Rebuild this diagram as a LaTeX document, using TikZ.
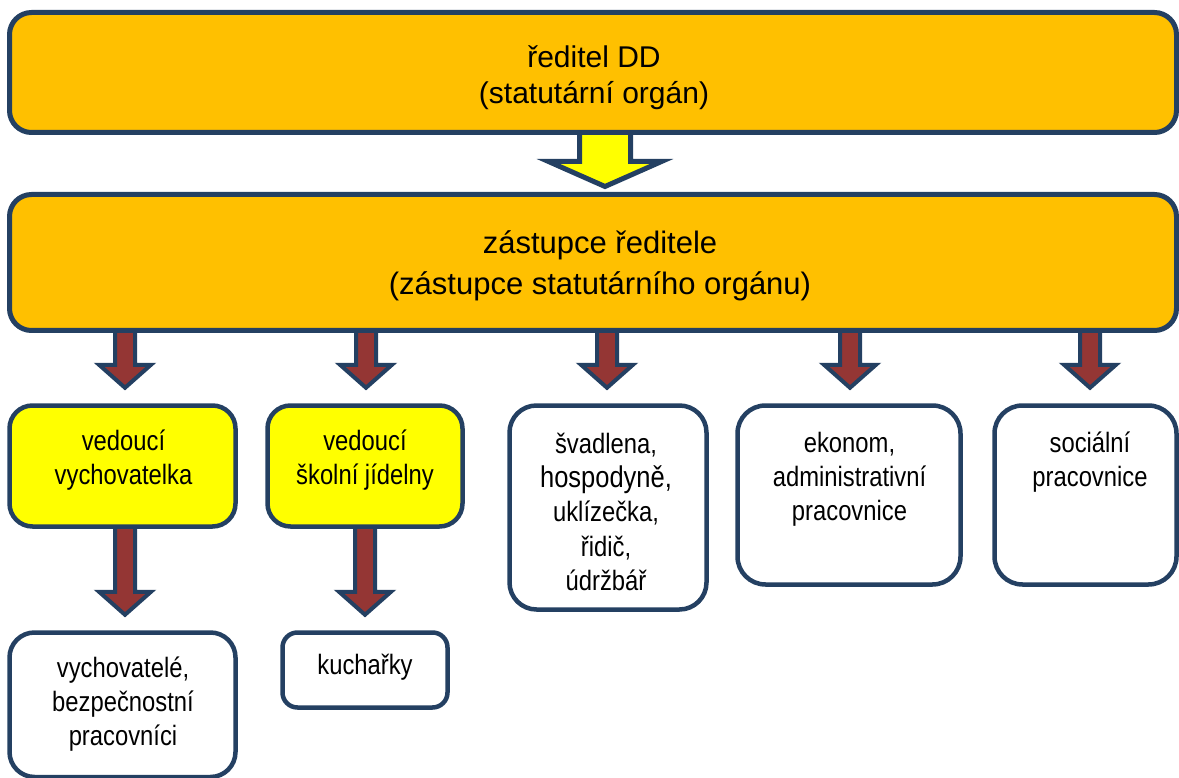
\documentclass[tikz,border=0pt]{standalone}
\usepackage{fontspec}
\setmainfont{Liberation Sans}
\newfontfamily\narrowsans[FakeStretch=0.85]{Liberation Sans}
\usetikzlibrary{calc}
\pgfdeclarelayer{bg}
\pgfsetlayers{bg,main}
\definecolor{navy}{RGB}{36,64,98}
\definecolor{orangefill}{RGB}{255,192,0}
\definecolor{yellowfill}{RGB}{255,255,0}
\definecolor{arrowred}{RGB}{148,54,52}
\newcommand\tstrut{\rule{0pt}{30pt}}
\newcommand\blockarrow[6]{%
  \draw[#1] let \p1=(#2), \p2=(#3) in
    (\x2-#4,\y1) -- (\x2-#4,\y2+#6) -- (\x2-#5,\y2+#6) -- (\x2,\y2)
    -- (\x2+#5,\y2+#6) -- (\x2+#4,\y2+#6) -- (\x2+#4,\y1) -- cycle;}
\tikzset{
  bigbox/.style={draw=navy, line width=5pt, fill=orangefill, rounded corners=22pt,
    rectangle, inner sep=0pt},
  smallbox/.style={draw=navy, line width=4.5pt, fill=white, rounded corners=25pt,
    rectangle, inner sep=0pt},
  leadbox/.style={smallbox, fill=yellowfill, rounded corners=23pt},
  bigtext/.style={font=\fontsize{30pt}{36pt}\selectfont, align=center, inner sep=0pt, anchor=north},
  midtext/.style={font=\fontsize{31pt}{41pt}\selectfont, align=center, inner sep=0pt, anchor=north},
  smalltext/.style={font=\narrowsans\fontsize{28pt}{34pt}\selectfont, align=center, inner sep=0pt, anchor=north},
  redarrow/.style={draw=navy, line width=4pt, fill=arrowred, line join=miter},
  yellowarrow/.style={draw=navy, line width=5pt, fill=yellowfill, line join=miter}
}
\begin{document}
\begin{tikzpicture}[x=1pt,y=-1pt]
\useasboundingbox (0,0) rectangle (1179,778);
\clip (0,0) rectangle (1179,778);
% boxes
\node[bigbox, minimum width=1167pt, minimum height=120pt] (top) at (593,72.5) {};
\node[bigbox, minimum width=1167pt, minimum height=136pt] (zast) at (593,262.5) {};
\node[leadbox, minimum width=226pt, minimum height=121pt] (vv) at (122.5,466) {};
\node[leadbox, minimum width=195pt, minimum height=121pt] (vsj) at (365,466) {};
\node[smallbox, minimum width=197pt, minimum height=204pt, rounded corners=27pt] (sv) at (608,507.5) {};
\node[smallbox, minimum width=223pt, minimum height=179pt, rounded corners=28pt] (ek) at (849,495) {};
\node[smallbox, minimum width=182pt, minimum height=179pt, rounded corners=28pt] (soc) at (1085.5,495) {};
\node[smallbox, minimum width=226pt, minimum height=144.5pt] (vych) at (122.5,704.75) {};
\node[smallbox, minimum width=165pt, minimum height=75pt, rounded corners=15pt] (kuch) at (365,670) {};
% texts
\node[bigtext] (ttop) at (594,37) {\tstrut ředitel DD\\(statutární orgán)};
\node[midtext] (tzast) at (600,223) {\tstrut zástupce ředitele\\(zástupce statutárního orgánu)};
\node[smalltext] (tvv) at (123.5,420) {\tstrut vedoucí\\vychovatelka};
\node[smalltext] (tvsj) at (365,420) {\tstrut vedoucí\\školní jídelny};
\node[smalltext, font=\narrowsans\fontsize{28pt}{34.3pt}\selectfont] (tsv) at (606,423)
  {\tstrut švadlena,\\{\fontsize{30pt}{34.3pt}\selectfont hospodyně,}\\uklízečka,\\řidič,\\údržbář};
\node[smalltext] (tek) at (849.5,422) {\tstrut ekonom,\\administrativní\\pracovnice};
\node[smalltext] (tsoc) at (1090,422) {\tstrut sociální\\pracovnice};
\node[smalltext] (tvych) at (123,647) {\tstrut vychovatelé,\\bezpečnostní\\pracovníci};
\node[smalltext] (tkuch) at (365,644) {\tstrut kuchařky};
% arrows
\begin{pgfonlayer}{bg}
\blockarrow{yellowarrow}{[yshift=3pt]top.south}{[xshift=12pt,yshift=5.5pt]zast.north}{25.5pt}{56.5pt}{25pt}
\blockarrow{redarrow}{[yshift=3pt]zast.south}{[xshift=2.5pt,yshift=15.5pt]vv.north}{10pt}{26pt}{23pt}
\blockarrow{redarrow}{[yshift=3pt]zast.south}{[xshift=1pt,yshift=15.5pt]vsj.north}{10pt}{26pt}{23pt}
\blockarrow{redarrow}{[yshift=3pt]zast.south}{[xshift=-1pt,yshift=15.5pt]sv.north}{10pt}{26pt}{23pt}
\blockarrow{redarrow}{[yshift=3pt]zast.south}{[xshift=1pt,yshift=15.5pt]ek.north}{10pt}{26pt}{23pt}
\blockarrow{redarrow}{[yshift=3pt]zast.south}{[xshift=4.5pt,yshift=15.5pt]soc.north}{10pt}{26pt}{23pt}
\blockarrow{redarrow}{[yshift=3pt]vv.south}{[xshift=2.5pt,yshift=15.5pt]vych.north}{10pt}{26pt}{23pt}
\blockarrow{redarrow}{[yshift=3pt]vsj.south}{[yshift=15.5pt]kuch.north}{10pt}{26pt}{23pt}
\end{pgfonlayer}
\end{tikzpicture}
\end{document}
